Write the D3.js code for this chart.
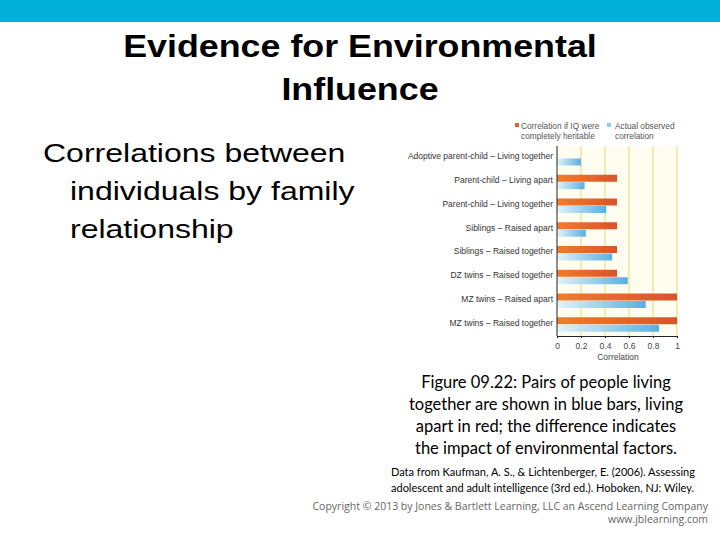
<!DOCTYPE html>
<html>
<head>
<meta charset="utf-8">
<script src="https://cdn.jsdelivr.net/npm/d3@7"></script>
<style>
  html, body { margin: 0; padding: 0; background: #ffffff; }
  svg { display: block; }
</style>
</head>
<body>
<svg id="chart" width="720" height="540"></svg>
<script>
// ---- data ----
const categories = [
  "Adoptive parent-child – Living together",
  "Parent-child – Living apart",
  "Parent-child – Living together",
  "Siblings – Raised apart",
  "Siblings – Raised together",
  "DZ twins – Raised together",
  "MZ twins – Raised apart",
  "MZ twins – Raised together"
];
const heritableValues = [0, 0.5, 0.5, 0.5, 0.5, 0.5, 1, 1];
const observedValues = [0.2, 0.23, 0.41, 0.24, 0.46, 0.59, 0.74, 0.85];
const xTicks = [0, 0.2, 0.4, 0.6, 0.8, 1];
const xTickLabels = ["0", "0.2", "0.4", "0.6", "0.8", "1"];
const legendHeritable = ["Correlation if IQ were", "completely heritable"];
const legendObserved = ["Actual observed", "correlation"];
const titleLines = ["Evidence for Environmental", "Influence"];
const bulletLines = ["Correlations between", "individuals by family", "relationship"];
const captionLines = [
  "Figure 09.22: Pairs of people living",
  "together are shown in blue bars, living",
  "apart in red; the difference indicates",
  "the impact of environmental factors."
];
const sourceLines = [
  "Data from Kaufman, A. S., & Lichtenberger, E. (2006). Assessing",
  "adolescent and adult intelligence (3rd ed.). Hoboken, NJ: Wiley."
];
const copyrightLines = [
  "Copyright © 2013 by Jones & Bartlett Learning, LLC an Ascend Learning Company",
  "www.jblearning.com"
];

// ---- drawing ----
const svg = d3.select("#chart");
const defs = svg.append("defs");

function stretch(sel, k) {
  sel.each(function () {
    const w = this.getComputedTextLength();
    d3.select(this).attr("textLength", w * k).attr("lengthAdjust", "spacingAndGlyphs");
  });
}

const redGrad = defs.append("linearGradient").attr("id", "redGrad")
  .attr("x1", "0%").attr("x2", "100%").attr("y1", "0%").attr("y2", "0%");
redGrad.append("stop").attr("offset", "0%").attr("stop-color", "#f07d2c");
redGrad.append("stop").attr("offset", "100%").attr("stop-color", "#d9532a");

const blueGrad = defs.append("linearGradient").attr("id", "blueGrad")
  .attr("x1", "0%").attr("x2", "100%").attr("y1", "0%").attr("y2", "0%");
blueGrad.append("stop").attr("offset", "0%").attr("stop-color", "#e4f2fa");
blueGrad.append("stop").attr("offset", "100%").attr("stop-color", "#57b0e0");

// top banner
svg.append("rect").attr("x", 0).attr("y", 0).attr("width", 720).attr("height", 21)
  .attr("fill", "#00b0d8");
svg.append("rect").attr("x", 0).attr("y", 21).attr("width", 720).attr("height", 1)
  .attr("fill", "#20a8c8");

// title
const title = svg.append("g").selectAll("text").data(titleLines).join("text")
  .attr("x", 360).attr("y", (d, i) => 57 + i * 43)
  .attr("text-anchor", "middle")
  .attr("font-family", "'Liberation Sans', Arial, sans-serif")
  .attr("font-weight", "bold").attr("font-size", 31)
  .attr("fill", "#000")
  .text(d => d);
stretch(title, 1.155);

// bullet text
const bullet = svg.append("g").selectAll("text").data(bulletLines).join("text")
  .attr("x", (d, i) => i === 0 ? 43 : 70)
  .attr("y", (d, i) => 162 + i * 38)
  .attr("font-family", "'Liberation Sans', Arial, sans-serif")
  .attr("font-size", 25)
  .attr("fill", "#000")
  .text(d => d);
stretch(bullet, 1.28);

// chart
const x0 = 557, x1 = 677, yTop = 146, yBottom = 336;
const x = d3.scaleLinear().domain([0, 1]).range([x0, x1]);
const y = d3.scaleBand().domain(categories).range([yTop, yBottom]).padding(0);
const bw = y.bandwidth();

const chart = svg.append("g");
chart.append("rect").attr("x", x0).attr("y", yTop)
  .attr("width", x1 - x0).attr("height", yBottom - yTop)
  .attr("fill", "#fffdf0");

chart.append("g").selectAll("line").data(xTicks.slice(1)).join("line")
  .attr("x1", d => x(d)).attr("x2", d => x(d))
  .attr("y1", yTop).attr("y2", yBottom)
  .attr("stroke", "#f2dc8a").attr("stroke-width", 1.2);

// bars
chart.append("g").selectAll("rect").data(categories).join("rect")
  .attr("x", x(0))
  .attr("y", d => y(d) + 5)
  .attr("width", (d, i) => x(heritableValues[i]) - x(0))
  .attr("height", 7)
  .attr("fill", "url(#redGrad)");

chart.append("g").selectAll("rect").data(categories).join("rect")
  .attr("x", x(0))
  .attr("y", d => y(d) + 12.5)
  .attr("width", (d, i) => x(observedValues[i]) - x(0))
  .attr("height", 7)
  .attr("fill", "url(#blueGrad)");

// category labels
chart.append("g").selectAll("text").data(categories).join("text")
  .attr("x", 553)
  .attr("y", d => y(d) + bw / 2 + 1.5)
  .attr("text-anchor", "end")
  .attr("font-family", "'Liberation Sans', Arial, sans-serif")
  .attr("font-size", 8.5)
  .attr("fill", "#333")
  .text(d => d);

// axes
const xAxis = d3.axisBottom(x).tickValues(xTicks)
  .tickFormat((d, i) => xTickLabels[i]).tickSize(2).tickSizeOuter(0);
const gx = chart.append("g").attr("transform", `translate(0,${yBottom})`).call(xAxis);
gx.select(".domain").attr("stroke", "#222");
gx.selectAll(".tick line").attr("stroke", "#222");
gx.selectAll(".tick text")
  .attr("font-family", "'Liberation Sans', Arial, sans-serif")
  .attr("font-size", 8.5).attr("fill", "#444").attr("dy", "0.9em");

chart.append("line").attr("x1", x0).attr("x2", x0)
  .attr("y1", yTop).attr("y2", yBottom)
  .attr("stroke", "#222").attr("stroke-width", 1);

chart.append("text").attr("x", (x0 + x1) / 2 + 1).attr("y", 360)
  .attr("text-anchor", "middle")
  .attr("font-family", "'Liberation Sans', Arial, sans-serif")
  .attr("font-size", 8.5).attr("fill", "#444")
  .text("Correlation");

// legend
const lg = chart.append("g");
lg.append("rect").attr("x", 515).attr("y", 123).attr("width", 4).attr("height", 4).attr("fill", "#e0622a");
lg.append("rect").attr("x", 607).attr("y", 123).attr("width", 4).attr("height", 4).attr("fill", "#8fcbed");
lg.selectAll(".lh").data(legendHeritable).join("text").attr("class", "lh")
  .attr("x", 521).attr("y", (d, i) => 128.5 + i * 10)
  .attr("font-family", "'Liberation Sans', Arial, sans-serif")
  .attr("font-size", 8.3).attr("fill", "#555").text(d => d);
lg.selectAll(".lo").data(legendObserved).join("text").attr("class", "lo")
  .attr("x", 615).attr("y", (d, i) => 128.5 + i * 10)
  .attr("font-family", "'Liberation Sans', Arial, sans-serif")
  .attr("font-size", 8.3).attr("fill", "#555").text(d => d);

// caption
svg.append("g").selectAll("text").data(captionLines).join("text")
  .attr("x", 546).attr("y", (d, i) => 388 + i * 22)
  .attr("text-anchor", "middle")
  .attr("font-family", "Lato, 'Open Sans', sans-serif")
  .attr("font-size", 16.5).attr("fill", "#000")
  .text(d => d);

svg.append("g").selectAll("text").data(sourceLines).join("text")
  .attr("x", 391).attr("y", (d, i) => 476 + i * 16)
  .attr("font-family", "Lato, 'Open Sans', sans-serif")
  .attr("font-size", 11).attr("fill", "#000")
  .text(d => d);

// copyright
svg.append("g").selectAll("text").data(copyrightLines).join("text")
  .attr("x", 708).attr("y", (d, i) => 510 + i * 13)
  .attr("text-anchor", "end")
  .attr("font-family", "'Open Sans', sans-serif")
  .attr("font-size", 10.5).attr("fill", "#666")
  .text(d => d);
</script>
</body>
</html>
